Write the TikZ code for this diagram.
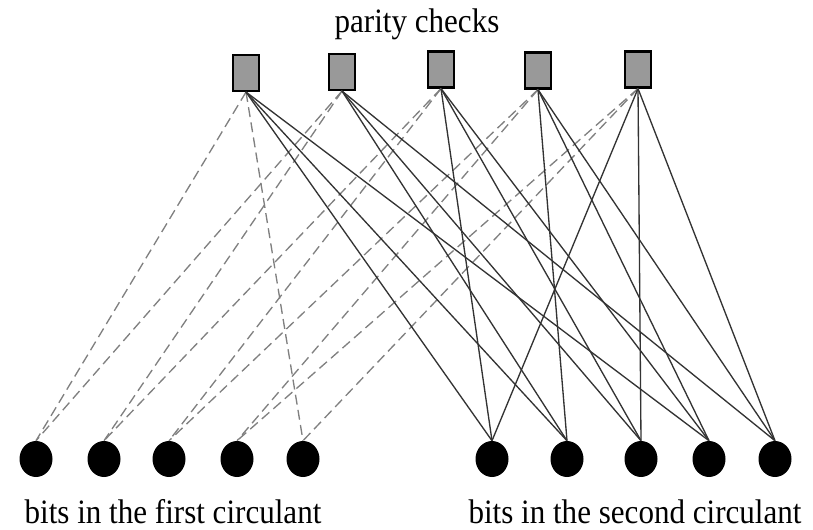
\documentclass[tikz,border=0pt]{standalone}
\usepackage{fontspec}
\setmainfont{Liberation Serif}
\usetikzlibrary{shapes.geometric}
\begin{document}
\begin{tikzpicture}[x=0.75pt,y=-0.75pt,
  checkbox/.style={rectangle,draw=black,line width=1.6pt,fill=black!40,
    minimum width=19.5pt,minimum height=27pt,inner sep=0pt},
  bitnode/.style={ellipse,fill=black,draw=none,minimum width=24.75pt,
    minimum height=27pt,inner sep=0pt},
  firstedge/.style={draw=black!50,line width=1pt,dash pattern=on 7.5pt off 4pt},
  secondedge/.style={draw=black!80,line width=1pt},
  caption/.style={font=\fontsize{23.3}{28}\selectfont,anchor=base,inner sep=0pt}]
\useasboundingbox (0,0) rectangle (813,530);

% parity-check nodes
\node[checkbox] (c1) at (246,73) {};
\node[checkbox] (c2) at (342,72) {};
\node[checkbox] (c3) at (441,69.5) {};
\node[checkbox] (c4) at (538,70.5) {};
\node[checkbox] (c5) at (638,69.5) {};

% bits of the first circulant
\node[bitnode] (a1) at (36,459) {};
\node[bitnode] (a2) at (104,459) {};
\node[bitnode] (a3) at (169,459) {};
\node[bitnode] (a4) at (237,459) {};
\node[bitnode] (a5) at (303,459) {};

% bits of the second circulant
\node[bitnode] (b1) at (492,459) {};
\node[bitnode] (b2) at (567,459) {};
\node[bitnode] (b3) at (641,459) {};
\node[bitnode] (b4) at (709,459) {};
\node[bitnode] (b5) at (775,459) {};

% first circulant: offsets 0 and 4
\foreach \i/\j in {1/1,1/5,2/2,2/1,3/3,3/2,4/4,4/3,5/5,5/4}
  \draw[firstedge] (c\i.south) -- (a\j.north);

% second circulant: offsets 0, 1 and 3
\foreach \i/\j in {1/1,1/2,1/4,2/2,2/3,2/5,3/3,3/4,3/1,4/4,4/5,4/2,5/5,5/1,5/3}
  \draw[secondedge] (c\i.south) -- (b\j.north);

% captions
\node[caption] (tcap) at (417,33) {\scalebox{1}[1.1]{parity checks}};
\node[caption] (lcap) at (173,523) {\scalebox{1}[1.1]{bits in the first circulant}};
\node[caption] (rcap) at (635,523) {\scalebox{1}[1.1]{bits in the second circulant}};
\end{tikzpicture}
\end{document}
